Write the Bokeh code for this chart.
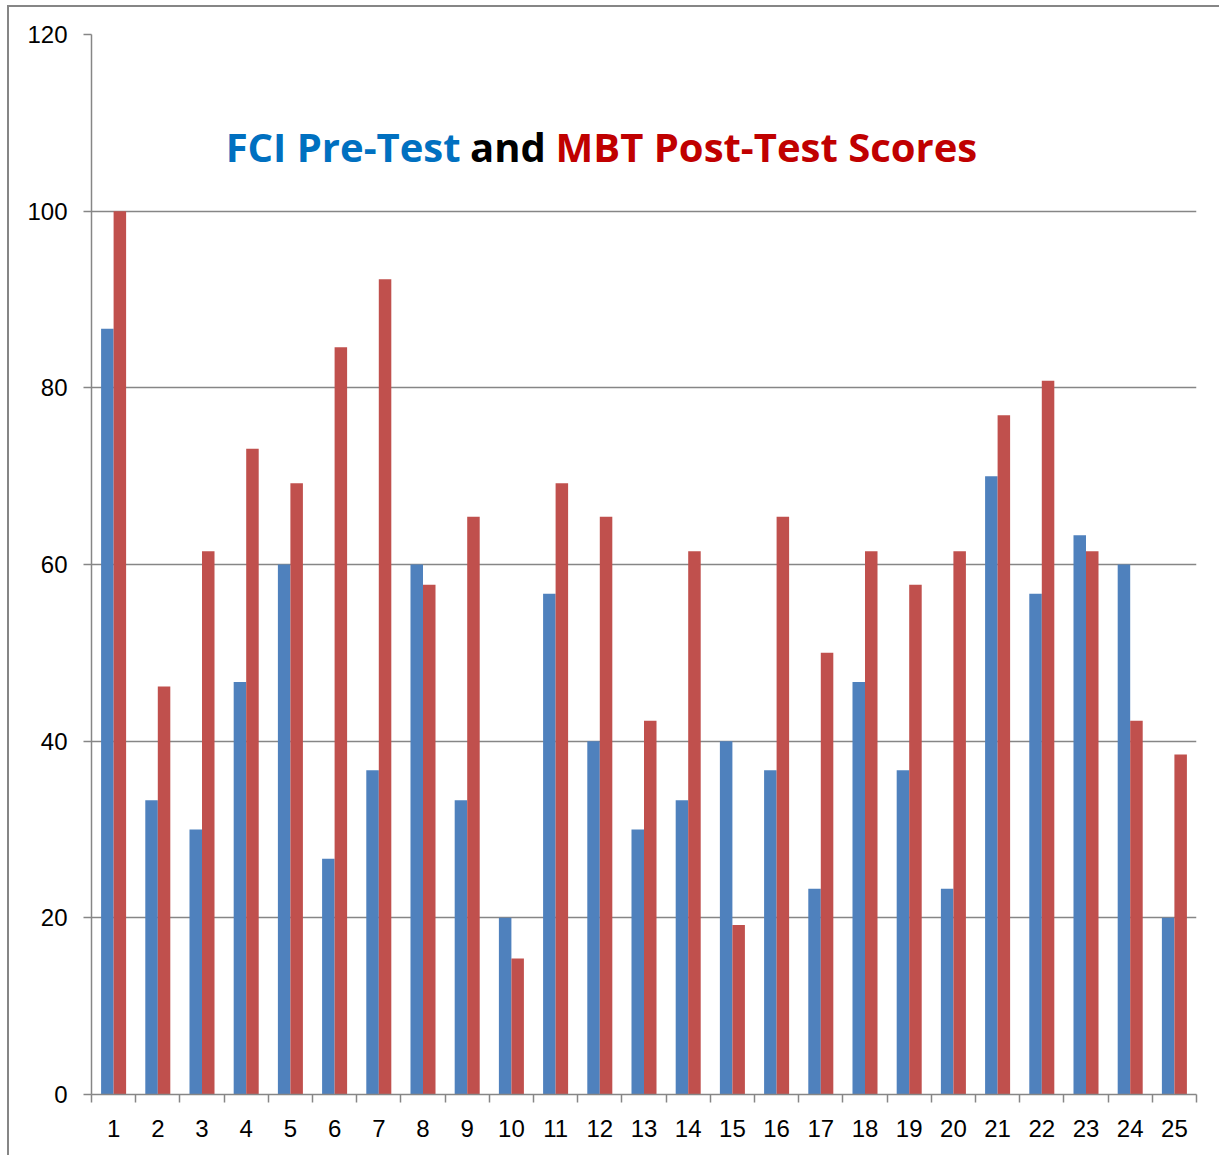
from bokeh.plotting import figure
from bokeh.models import Range1d, FixedTicker, Label, ColumnDataSource
from bokeh.embed import file_html
from bokeh.resources import INLINE

categories = list(range(1, 26))
pre_test = [86.7, 33.3, 30.0, 46.7, 60.0, 26.7, 36.7, 60.0, 33.3, 20.0,
            56.7, 40.0, 30.0, 33.3, 40.0, 36.7, 23.3, 46.7, 36.7, 23.3,
            70.0, 56.7, 63.3, 60.0, 20.0]
post_test = [100.0, 46.2, 61.5, 73.1, 69.2, 84.6, 92.3, 57.7, 65.4, 15.4,
             69.2, 65.4, 42.3, 61.5, 19.2, 65.4, 50.0, 61.5, 57.7, 61.5,
             76.9, 80.8, 61.5, 42.3, 38.5]
y_ticks = [0, 20, 40, 60, 80, 100, 120]

BLUE = "#4F81BD"
RED = "#C0504D"
GRAY = "#868686"
bar_w = 0.283

p = figure(width=1211, height=1148, output_backend="svg", toolbar_location=None,
           x_range=Range1d(0.5, 25.5), y_range=Range1d(0, 120),
           min_border_left=82, min_border_right=24, min_border_top=27, min_border_bottom=61,
           frame_width=1105, frame_height=1060)
p.outline_line_color = None
p.background_fill_color = "white"
p.border_fill_color = "white"
p.styles = {"border-top": f"2px solid {GRAY}", "border-left": f"2px solid {GRAY}",
            "box-sizing": "border-box", "margin-left": "7px", "margin-top": "5px"}

src = ColumnDataSource(dict(
    xb=[c - bar_w / 2 for c in categories],
    xr=[c + bar_w / 2 for c in categories],
    pre=pre_test, post=post_test))

p.vbar(x="xb", top="pre", bottom=0, width=bar_w, source=src,
       fill_color=BLUE, line_color=None)
p.vbar(x="xr", top="post", bottom=0, width=bar_w, source=src,
       fill_color=RED, line_color=None)

# axes
p.xaxis.ticker = FixedTicker(ticks=categories,
                             minor_ticks=[c - 0.5 for c in categories] + [25.5])
p.xaxis.major_tick_line_color = None
p.xaxis.minor_tick_line_color = GRAY
p.xaxis.minor_tick_out = 8
p.xaxis.minor_tick_in = 0
p.xaxis.minor_tick_line_width = 1.5
p.xaxis.axis_line_color = GRAY
p.xaxis.axis_line_width = 1.5
p.xaxis.major_label_text_font = "Liberation Sans"
p.xaxis.major_label_text_font_size = "24px"
p.xaxis.major_label_text_color = "black"
p.xaxis.major_label_standoff = 17

p.yaxis.ticker = FixedTicker(ticks=y_ticks)
p.yaxis.minor_tick_line_color = None
p.yaxis.major_tick_line_color = GRAY
p.yaxis.major_tick_out = 8
p.yaxis.major_tick_in = 0
p.yaxis.major_tick_line_width = 1.5
p.yaxis.axis_line_color = GRAY
p.yaxis.axis_line_width = 1.5
p.yaxis.major_label_text_font = "Liberation Sans"
p.yaxis.major_label_text_font_size = "24px"
p.yaxis.major_label_text_color = "black"
p.yaxis.major_label_standoff = 16

p.xgrid.grid_line_color = None
p.ygrid.grid_line_color = GRAY
p.ygrid.grid_line_width = 1.5

# title in three colours
title_y = 107.3
font = "Open Sans"
fs = "40px"
p.add_layout(Label(x=8.85, y=title_y, text="FCI Pre-Test", text_align="right",
                   text_baseline="alphabetic", text_font=font, text_font_size=fs,
                   text_font_style="bold", text_color="#0070C0"))
p.add_layout(Label(x=9.92, y=title_y, text="and", text_align="center",
                   text_baseline="alphabetic", text_font=font, text_font_size=fs,
                   text_font_style="bold", text_color="black"))
p.add_layout(Label(x=11.0, y=title_y, text="MBT Post-Test Scores", text_align="left",
                   text_baseline="alphabetic", text_font=font, text_font_size=fs,
                   text_font_style="bold", text_color="#C00000"))

open("out.html", "w").write(file_html(p, INLINE))
